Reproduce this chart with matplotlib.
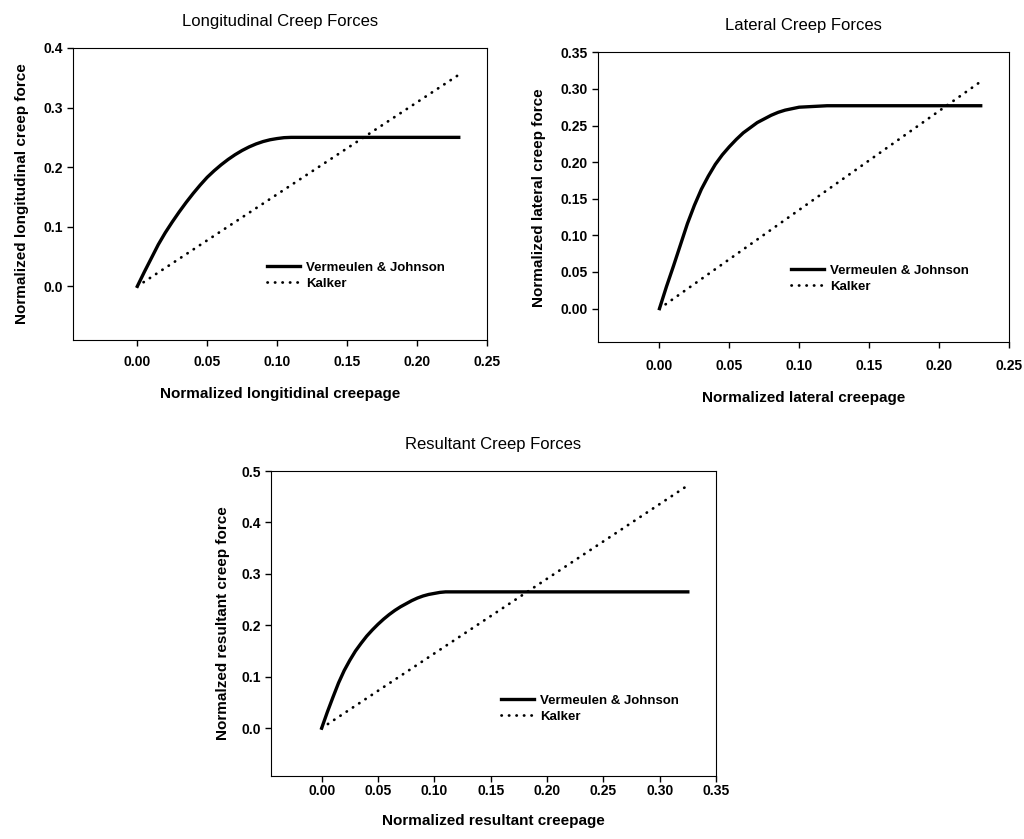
import matplotlib
matplotlib.use("Agg")
import matplotlib.pyplot as plt

plt.rcParams['font.family'] = ['Liberation Sans', 'DejaVu Sans']

# longitudinal
long_x = [0.0, 0.005, 0.01, 0.015, 0.02, 0.025, 0.03, 0.035, 0.04, 0.045, 0.05, 0.055, 0.06,
          0.065, 0.07, 0.075, 0.08, 0.085, 0.09, 0.095, 0.10, 0.105, 0.11, 0.23]
long_vj = [0.0, 0.024, 0.047, 0.07, 0.09, 0.108, 0.125, 0.141, 0.156, 0.17, 0.183, 0.194, 0.204,
           0.213, 0.221, 0.228, 0.234, 0.239, 0.243, 0.246, 0.248, 0.2495, 0.25, 0.25]
long_kx = [0.0, 0.23]
long_k = [0.0, 0.355]

# lateral
lat_x = [0.0, 0.005, 0.01, 0.015, 0.02, 0.025, 0.03, 0.035, 0.04, 0.045, 0.05, 0.055, 0.06,
         0.065, 0.07, 0.075, 0.08, 0.085, 0.09, 0.095, 0.10, 0.11, 0.12, 0.23]
lat_vj = [0.0, 0.03, 0.058, 0.087, 0.116, 0.141, 0.163, 0.181, 0.197, 0.21, 0.221, 0.231, 0.24,
          0.247, 0.254, 0.259, 0.264, 0.268, 0.271, 0.273, 0.275, 0.276, 0.277, 0.277]
lat_kx = [0.0, 0.23]
lat_k = [0.0, 0.31]

# resultant
res_x = [0.0, 0.005, 0.01, 0.015, 0.02, 0.025, 0.03, 0.035, 0.04, 0.045, 0.05, 0.055, 0.06,
         0.065, 0.07, 0.075, 0.08, 0.085, 0.09, 0.095, 0.10, 0.105, 0.11, 0.325]
res_vj = [0.0, 0.031, 0.06, 0.088, 0.112, 0.132, 0.15, 0.165, 0.179, 0.191, 0.202, 0.212, 0.221,
          0.229, 0.236, 0.242, 0.248, 0.253, 0.257, 0.26, 0.262, 0.264, 0.265, 0.265]
res_kx = [0.0, 0.325]
res_k = [0.0, 0.472]

fig = plt.figure(figsize=(10.24, 8.39), dpi=100)

panels = [
    ([0.0713, 0.5948, 0.404, 0.348], long_x, long_vj, long_kx, long_k,
     "Longitudinal Creep Forces", "Normalized longitidinal creepage", "Normalized longitudinal creep force",
     (-0.046, 0.25), (-0.09, 0.4), [0, 0.05, 0.10, 0.15, 0.20, 0.25], [0.0, 0.1, 0.2, 0.3, 0.4], "%.1f",
     0.44, 7, 13, 10),
    ([0.584, 0.592, 0.401, 0.3457], lat_x, lat_vj, lat_kx, lat_k,
     "Lateral Creep Forces", "Normalized lateral creepage", "Normalized lateral creep force",
     (-0.044, 0.25), (-0.046, 0.35), [0, 0.05, 0.10, 0.15, 0.20, 0.25],
     [0.0, 0.05, 0.10, 0.15, 0.20, 0.25, 0.30, 0.35], "%.2f",
     0.44, 8, 13, 10),
    ([0.2646, 0.0751, 0.4346, 0.3635], res_x, res_vj, res_kx, res_k,
     "Resultant Creep Forces", "Normalized resultant creepage", "Normalzed resultant creep force",
     (-0.045, 0.35), (-0.093, 0.5), [0, 0.05, 0.10, 0.15, 0.20, 0.25, 0.30, 0.35],
     [0.0, 0.1, 0.2, 0.3, 0.4, 0.5], "%.1f",
     0.49, 2, 11, 8),
]

for (pos, x, vj, kx, k, title, xl, yl, xlim, ylim, xt, yt, yfmt,
     legx, xpad, xlpad, ylpad) in panels:
    ax = fig.add_axes(pos)
    ax.plot(x, vj, color='black', lw=2.4, label="Vermeulen & Johnson")
    ax.plot(kx, k, color='black', lw=2.0, linestyle=(0, (0.1, 2.6)),
            dash_capstyle='round', label="Kalker")
    ax.set_xlim(*xlim)
    ax.set_ylim(*ylim)
    ax.set_xticks(xt)
    ax.set_xticklabels(["%.2f" % v for v in xt])
    ax.set_yticks(yt)
    ax.set_yticklabels([yfmt % v for v in yt])
    ax.tick_params(direction='out', length=4, width=1, labelsize=10)
    ax.tick_params(axis='x', pad=xpad)
    for lab in ax.get_xticklabels() + ax.get_yticklabels():
        lab.set_fontweight('bold')
    ax.set_title(title, fontsize=12, pad=16)
    ax.set_xlabel(xl, fontsize=11, fontweight='bold', labelpad=xlpad)
    ax.set_ylabel(yl, fontsize=11, fontweight='bold', labelpad=ylpad)
    ax.legend(loc='center left', bbox_to_anchor=(legx, 0.22), frameon=False,
              prop={'weight': 'bold', 'size': 9.5}, handlelength=2.5,
              handletextpad=0.5, labelspacing=0.3)

fig.savefig("out.png", dpi=100)
